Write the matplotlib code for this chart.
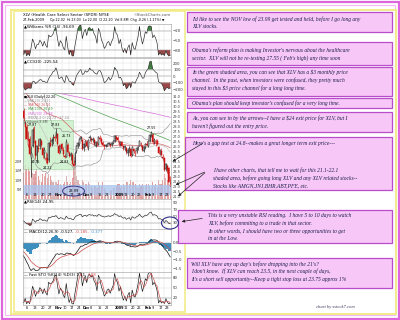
import numpy as np
import pandas as pd
import matplotlib
matplotlib.use('Agg')
import matplotlib.pyplot as plt
from matplotlib.patches import Rectangle, Ellipse, FancyArrowPatch
from matplotlib.transforms import blended_transform_factory

# ---- data: XLV daily, Sep 2 2008 .. Feb 27 2009 (first 23 days only feed the indicators)
holidays = ['2008-11-27', '2008-12-25', '2009-01-01', '2009-01-19', '2009-02-16']
opens = [32.90, 32.80, 32.90, 32.10, 32.90, 33.00, 32.40, 32.40, 32.70, 32.50, 31.50, 32.00, 31.30,
         32.80, 32.60, 31.70, 31.10, 31.00, 31.10, 31.20, 29.80, 30.00, 30.10,
         29.60, 28.40, 28.00, 26.20, 26.80, 24.80, 26.00, 28.00, 26.60, 25.10, 25.80, 26.00, 26.60,
         25.80, 25.30, 24.60, 24.80, 24.60, 26.40, 26.50, 26.60,
         27.00, 27.10, 27.30, 26.10, 25.50, 26.30, 25.60, 25.00, 24.95, 26.20, 25.30, 25.00, 25.10,
         24.20, 24.30, 25.50, 26.10, 26.30, 26.80,
         26.70, 25.80, 26.10, 26.50, 25.90, 26.90, 26.80, 26.70, 26.70, 26.00, 26.50, 26.30, 26.90,
         26.80, 26.40, 26.20, 26.10, 26.10, 26.30, 26.30, 26.20, 26.40,
         26.60, 27.00, 26.90, 26.50, 26.30, 26.50, 26.00, 25.80, 25.80, 25.30, 25.70, 25.70, 25.10,
         25.70, 25.20, 25.50, 25.80, 26.10, 26.40, 26.00,
         25.50, 25.90, 26.30, 26.10, 26.60, 27.20, 27.20, 26.50, 26.40, 26.60, 25.90, 25.40, 25.50,
         24.90, 24.80, 23.70, 24.00, 23.80, 22.02]
highs = [33.30, 33.10, 33.00, 32.60, 33.30, 33.10, 32.80, 32.90, 33.00, 32.70, 32.30, 32.10, 32.20,
         33.20, 32.70, 31.90, 31.30, 31.60, 31.70, 31.30, 30.20, 30.50, 30.30,
         29.90, 28.60, 28.30, 27.60, 27.10, 26.10, 27.87, 28.10, 26.70, 26.20, 26.80, 26.90, 26.80,
         25.90, 25.90, 25.40, 25.30, 26.50, 27.00, 26.90, 27.30,
         27.20, 27.83, 27.40, 26.30, 26.10, 26.40, 25.90, 25.20, 26.73, 26.40, 25.50, 25.40, 25.30,
         24.60, 25.50, 26.20, 26.50, 26.90, 27.05,
         26.80, 26.40, 26.70, 26.70, 26.80, 27.20, 27.00, 27.00, 26.90, 26.60, 26.60, 27.10, 27.20,
         27.00, 26.60, 26.30, 26.30, 26.35, 26.50, 26.40, 26.50, 26.70,
         27.20, 27.20, 27.10, 26.70, 26.60, 26.60, 26.20, 26.20, 25.90, 25.80, 26.00, 25.80, 26.00,
         25.80, 25.60, 25.90, 26.10, 26.70, 26.50, 26.20,
         26.00, 26.40, 26.60, 26.70, 27.30, 27.55, 27.40, 26.90, 26.80, 26.80, 26.00, 25.70, 25.80,
         25.20, 24.90, 24.30, 24.20, 23.90, 23.03]
lows = [32.60, 32.60, 32.10, 31.90, 32.70, 32.20, 32.20, 32.10, 32.50, 31.70, 31.30, 31.00, 30.60,
        32.30, 31.50, 31.00, 30.70, 30.90, 30.90, 29.40, 29.50, 29.80, 29.30,
        28.60, 26.80, 26.70, 25.90, 25.10, 22.89, 25.90, 26.40, 24.75, 24.30, 25.40, 25.70, 25.90,
        24.80, 24.80, 24.30, 24.22, 24.40, 25.90, 26.00, 26.30,
        26.60, 26.90, 26.20, 25.20, 25.30, 25.60, 25.00, 24.83, 24.90, 25.30, 24.90, 24.60, 24.20,
        23.99, 24.10, 25.30, 25.80, 26.10, 26.60,
        25.60, 25.50, 25.90, 25.80, 25.60, 26.60, 26.50, 26.50, 26.20, 25.90, 26.00, 26.20, 26.60,
        26.30, 26.00, 25.70, 25.90, 26.00, 26.20, 25.90, 26.00, 26.30,
        26.50, 26.60, 26.50, 26.10, 26.10, 26.00, 25.60, 25.60, 25.20, 25.00, 25.40, 24.90, 25.00,
        25.30, 25.00, 25.30, 25.60, 26.00, 25.90, 25.50,
        25.40, 25.70, 26.00, 25.90, 26.50, 27.00, 26.30, 26.30, 26.10, 26.20, 25.20, 25.10, 25.00,
        24.60, 23.50, 23.50, 23.30, 22.40, 22.00]
closes = [32.80, 32.95, 32.20, 32.45, 33.10, 32.30, 32.55, 32.80, 32.90, 31.70, 32.20, 31.10, 32.05,
          32.70, 31.60, 31.05, 30.90, 31.40, 31.55, 29.60, 30.05, 30.30, 29.45,
          28.85, 27.95, 26.80, 26.60, 25.25, 25.35, 27.70, 26.75, 25.00, 26.00, 25.75, 26.75, 26.20,
          25.15, 25.60, 24.80, 24.35, 26.40, 26.10, 26.70, 26.95,
          26.85, 27.45, 26.30, 25.35, 26.00, 25.75, 25.20, 24.95, 26.50, 25.40, 25.00, 25.20, 24.25,
          24.05, 25.35, 26.05, 26.40, 26.80, 27.00,
          25.70, 26.30, 26.60, 26.00, 26.70, 26.90, 26.65, 26.80, 26.30, 26.50, 26.20, 27.00, 26.80,
          26.40, 26.20, 26.00, 26.10, 26.30, 26.40, 26.20, 26.40, 26.55,
          27.10, 26.80, 26.70, 26.30, 26.50, 26.10, 25.80, 26.00, 25.40, 25.60, 25.80, 25.00, 25.90,
          25.50, 25.40, 25.80, 26.00, 26.60, 26.00, 25.60,
          25.90, 26.30, 26.20, 26.60, 27.20, 27.40, 26.50, 26.70, 26.60, 26.30, 25.30, 25.40, 25.10,
          24.85, 23.60, 24.20, 23.60, 22.46, 22.20]
# volume in millions, Oct 3 .. Feb 27
volumes = [14, 18, 16, 17, 15, 24, 14, 13, 15, 16, 12, 10, 9, 13, 12, 14, 11, 13, 12, 10, 9,
           7, 9, 8, 10, 8, 7, 8, 9, 12, 9, 8, 9, 11, 16, 22, 12, 10, 8, 4,
           10, 9, 8, 8, 9, 8, 7, 6, 7, 7, 6, 9, 7, 7, 9, 6, 5, 3, 3, 5, 5, 6,
           6, 7, 8, 8, 6, 7, 8, 7, 9, 9, 8, 10, 9, 9, 8, 7, 6, 8, 7, 8,
           7, 7, 8, 8, 7, 6, 9, 7, 8, 6, 10, 8, 8, 10, 13, 11, 10, 12, 9]
# long moving averages (every 10 sessions from Oct 3)
ma_long_x = [0, 10, 20, 30, 40, 50, 60, 70, 80, 90, 100]
ma100 = [32.50, 31.90, 31.35, 30.75, 30.10, 29.50, 28.90, 28.35, 27.80, 27.20, 26.60]
ma200 = [32.10, 31.80, 31.50, 31.20, 30.90, 30.55, 30.25, 29.95, 29.60, 29.30, 28.95]

tick_dates = ['2008-10-06', '2008-10-13', '2008-10-20', '2008-10-27', '2008-11-03', '2008-11-10',
              '2008-11-17', '2008-11-24', '2008-12-01', '2008-12-08', '2008-12-15', '2008-12-22',
              '2009-01-02', '2009-01-12', '2009-01-20', '2009-01-26', '2009-02-02', '2009-02-09',
              '2009-02-17', '2009-02-23']
tick_text = ['6', '13', '20', '27', 'Nov', '10', '17', '24', 'Dec', '8', '15', '22', '2009',
             '12', '20', '26', 'Feb', '9', '17', '23']

notes = [
    ((187, 12, 392, 32), 192, [19, 27],
     ["I'd like to see the NOV low of 23.99 get tested and held, before I go long any", "XLV stocks."]),
    ((187, 42, 392, 65), 192, [50, 58],
     ["Obama's reform plan is making Investor's nervous about the healthcare",
      "sector.  XLV will not be re-testing 27.55 ( Feb's high) any time soon"]),
    ((187, 67, 392, 96), 192, [72, 80, 88],
     ["In the green shaded area, you can see that XLV has a \\$3 monthly price",
      "channel.  In the past, when investors were confused, they pretty much",
      "stayed in this \\$3 price channel for a long long time."]),
    ((187, 98, 392, 108), 192, [103],
     ["Obama's plan should keep investor's confused for a very long time."]),
    ((187, 112, 392, 132), 192, [118, 126],
     ["As, you can see in by the arrows--I have a \\$24 exit price for XLV, but I",
      "haven't figured out the entry price."]),
    ((185, 137, 392, 190), 192, [143],
     ["Here's a gap test at 24.8--makes a great longer term exit price---"]),
    (None, 213, [170, 178, 186],
     ["I have other charts, that tell me to wait for this 21.1-22.1",
      "shaded area, before going long XLV and any XLV related stocks--",
      "Stocks like AMGN,JNJ,BHR,ABT,PFE, etc."]),
    ((178, 210, 392, 243), 208, [216, 223, 231, 238],
     ["This is a very unstable RSI reading.  I have 5 to 10 days to watch",
      "XLV, before commiting to a trade in that sector.",
      "In other words, I should have two or three opportunities to get",
      "in at the Low."]),
    ((187, 258, 392, 288), 191, [264, 271, 279],
     ["Will XLV have any up day's before dropping into the 21's?",
      "I don't know.  If XLV can reach 23.5, in the next couple of days,",
      "It's a short sell opportunity--Keep a tight stop loss at 23.75 approx 1%"]),
]

# ---- indicators
days = pd.bdate_range('2008-09-02', '2009-02-27')
days = days[~days.isin(pd.to_datetime(holidays))]
pos = {d: i - 23 for i, d in enumerate(days)}
xs = np.arange(len(days)) - 23
tick_x = [pos[pd.Timestamp(d)] for d in tick_dates]

o = pd.Series(opens); h = pd.Series(highs); l = pd.Series(lows); c = pd.Series(closes)
hh = h.rolling(14, min_periods=1).max()
ll = l.rolling(14, min_periods=1).min()
willr = (hh - c) / (hh - ll) * -100
tp = (h + l + c) / 3
md = tp.rolling(20, min_periods=2).apply(lambda s: np.mean(np.abs(s - s.mean())), raw=True)
cci = (tp - tp.rolling(20, min_periods=2).mean()) / (0.015 * md)
dlt = c.diff()
gain = dlt.clip(lower=0).ewm(alpha=1 / 14, adjust=False).mean()
loss = (-dlt.clip(upper=0)).ewm(alpha=1 / 14, adjust=False).mean()
rsi = 100 - 100 / (1 + gain / loss)
macd = c.ewm(span=12, adjust=False).mean() - c.ewm(span=26, adjust=False).mean()
sig = macd.ewm(span=9, adjust=False).mean()
hist = macd - sig
stk = (c - ll) / (hh - ll) * 100
std = stk.rolling(3).mean()
ma20 = c.rolling(20, min_periods=1).mean()
sd20 = c.rolling(20, min_periods=1).std(ddof=0)
ma50 = c.rolling(50, min_periods=1).mean()

W, H = 400, 320


def rect(x0, y0, x1, y1):
    return [x0 / W, 1 - y1 / H, (x1 - x0) / W, (y1 - y0) / H]


fig = plt.figure(figsize=(4, 3.2), dpi=100, facecolor='white')
tiny = 2.8


def panel(y0, y1, ylim, yticks, ylabels=None):
    ax = fig.add_axes(rect(23, y0, 171, y1))
    ax.set_xlim(-0.5, 100.5)
    ax.set_ylim(*ylim)
    for s in ax.spines.values():
        s.set_color('#9a9a9a'); s.set_linewidth(0.4)
    ax.yaxis.tick_right()
    ax.set_yticks(yticks)
    if ylabels is not None:
        ax.set_yticklabels(ylabels)
    ax.tick_params(axis='y', length=0, pad=1.5, labelsize=tiny, colors='#333333')
    ax.set_xticks(tick_x)
    ax.tick_params(axis='x', length=0, labelbottom=False)
    ax.grid(True, color='#dcdcdc', lw=0.3)
    ax.set_axisbelow(True)
    return ax


def label(ax, parts, y=0.97):
    # parts: list of (text, colour); each piece continues right after the previous one
    t = ax.text(0.01, y, parts[0][0], transform=ax.transAxes, fontsize=tiny, color=parts[0][1],
                va='top', ha='left')
    for s, colr in parts[1:]:
        t = ax.annotate(s, xy=(1, 0), xycoords=t, fontsize=tiny, color=colr, va='bottom', ha='left')


green_fill = '#3f7f3f'
red_fill = '#9a4848'

# Williams %R
ax_w = panel(24, 57, (-102, 2), [-20, -50, -80])
ax_w.plot(xs, willr, color='#222222', lw=0.45)
ax_w.fill_between(xs, willr, -20, where=willr > -20, interpolate=True, color=green_fill, lw=0)
ax_w.fill_between(xs, willr, -80, where=willr < -80, interpolate=True, color=red_fill, lw=0)
ax_w.axhline(-20, color='#999999', lw=0.35); ax_w.axhline(-80, color='#999999', lw=0.35)
label(ax_w, [('▲Williams %R (14) -96.69', 'black')])
fig.text(23 / W, 1 - 15 / H, 'XLV (Health Care Select Sector (SPDR) NYSE', fontsize=tiny, va='center')
fig.text(171 / W, 1 - 15 / H, '©StockCharts.com', fontsize=tiny, va='center', ha='right', color='#555555')
fig.text(23 / W, 1 - 20 / H, '27-Feb-2009', fontsize=2.5, va='center')
fig.text(50 / W, 1 - 20 / H, 'Op 22.02  Hi 23.03  Lo 22.00  Cl 22.20  Vol 8.8M  Chg -0.26 (-1.17%) ▼',
         fontsize=2.3, va='center')

# CCI
ax_c = panel(58, 93, (-261, 277), [200, 100, 0, -100, -200])
ax_c.plot(xs, cci, color='#222222', lw=0.45)
ax_c.fill_between(xs, cci, 100, where=cci > 100, interpolate=True, color=green_fill, lw=0)
ax_c.fill_between(xs, cci, -100, where=cci < -100, interpolate=True, color=red_fill, lw=0)
for v in (100, 0, -100):
    ax_c.axhline(v, color='#999999', lw=0.35)
label(ax_c, [('▲CCI(20) -225.54', 'black')])

# price
ax_p = panel(93, 199, (20.70, 31.40), np.arange(21.0, 31.01, 0.5),
             ['%.1f' % v for v in np.arange(21.0, 31.01, 0.5)])
ax_v = ax_p.twinx()
ax_p.yaxis.tick_right()
ax_p.tick_params(axis='y', length=0, pad=1.5, labelsize=2.5, colors='#333333',
                 labelleft=False, labelright=True)
ax_v.set_zorder(ax_p.get_zorder() - 1)
ax_p.patch.set_visible(False)
main = xs >= 0
vol_colors = np.where(c.diff()[main] < 0, '#e79a9a', '#d9b3b3')
ax_v.bar(xs[main], volumes, width=0.75, color=vol_colors, lw=0)
ax_v.set_ylim(0, 56)
ax_v.set_yticks([5, 10, 15, 20])
ax_v.set_yticklabels(['5M', '10M', '15M', '20M'])
ax_v.yaxis.tick_left()
ax_v.tick_params(axis='y', length=0, pad=0.8, labelsize=2.4, colors='#333333',
                 labelleft=True, labelright=False)
for s in ax_v.spines.values():
    s.set_visible(False)

ax_p.add_patch(Rectangle((-0.5, 23.7), 34.0, 5.0, facecolor='#c6efc6', edgecolor='#7fc47f',
                         lw=0.4, alpha=0.75, zorder=1))
ax_p.axhspan(21.1, 22.1, color='#a9c4ee', alpha=0.75, lw=0, zorder=1)
ax_p.plot(xs, ma20 + 2 * sd20, color='#8a8a8a', lw=0.4, zorder=2)
ax_p.plot(xs, ma20 - 2 * sd20, color='#8a8a8a', lw=0.4, zorder=2)
ax_p.plot(xs, ma20, color='#bbbbbb', lw=0.4, zorder=2)
ax_p.plot(xs, ma50, color='#d35a5a', lw=0.45, zorder=2)
ax_p.plot(ma_long_x, ma100, color='#3f9a3f', lw=0.45, zorder=2)
ax_p.plot(ma_long_x, ma200, color='#d872d8', lw=0.5, zorder=2)

prev = c.shift(1)
col = np.where(c < prev, '#cc1111', '#111111')
body_lo = np.minimum(o, c)
body_h = np.maximum(np.abs(c - o), 0.04)
face = np.where(c < o, col, 'white')
ax_p.vlines(xs[main], l[main], h[main], colors=col[main], lw=0.45, zorder=3)
ax_p.bar(xs[main], body_h[main], bottom=body_lo[main], width=0.62, color=face[main],
         edgecolor=col[main], lw=0.35, zorder=4)

for d, txt, above in [('2008-10-13', '27.87', True), ('2008-11-04', '27.83', True),
                      ('2008-11-13', '26.73', True), ('2009-02-09', '27.55', True),
                      ('2008-10-15', '24.75', False), ('2008-10-27', '24.22', False),
                      ('2008-11-12', '24.83', False)]:
    i = pos[pd.Timestamp(d)] + 23
    yv = highs[i] + 0.35 if above else lows[i] - 0.35
    ax_p.text(pos[pd.Timestamp(d)], yv, txt, fontsize=2.3, ha='center', va='center', zorder=5)
nov_low = pos[pd.Timestamp('2008-11-20')]
ax_p.text(nov_low, 21.5, '23.99', fontsize=2.6, ha='center', va='center', zorder=5)
ax_p.add_patch(Ellipse((nov_low, 21.5), 15, 1.0, fill=False, edgecolor='#3a3a8a', lw=0.7, zorder=6))

for j, (s, colr) in enumerate([('■XLV (Daily) 22.20', 'black'), ('— MA(20) 25.21', '#999999'),
                               ('— MA(50) 26.01', '#d35a5a'), ('— MA(100) 26.49', '#3f9a3f'),
                               ('— MA(200) 28.88', '#d872d8'), ('— BB(20,2.0) 22.73 - 27.34', '#888888'),
                               ('▲Volume 8.8M', '#555555')]):
    ax_p.text(0.01, 0.985 - j * 0.04, s, transform=ax_p.transAxes, fontsize=2.3, color=colr,
              va='top', zorder=5)

bt = blended_transform_factory(ax_p.transData, ax_p.transAxes)
for tx, tt in zip(tick_x, tick_text):
    ax_p.text(tx + 0.3, 0.02, tt, transform=bt, fontsize=2.5, va='bottom', ha='left', zorder=5,
              fontweight='bold' if not tt.isdigit() or tt == '2009' else 'normal')

# RSI
ax_r = panel(199, 229, (12, 100), [90, 70, 50, 30])
ax_r.plot(xs, rsi, color='#222222', lw=0.45)
ax_r.fill_between(xs, rsi, 30, where=rsi < 30, interpolate=True, color=red_fill, lw=0)
ax_r.fill_between(xs, rsi, 70, where=rsi > 70, interpolate=True, color=green_fill, lw=0)
ax_r.axhline(70, color='#999999', lw=0.35); ax_r.axhline(30, color='#999999', lw=0.35)
label(ax_r, [('▲RSI(14) 24.95', 'black')])

# MACD
ax_m = panel(229, 272, (-1.74, 0.84), [0.0, -0.5, -1.0, -1.5])
ax_m.bar(xs, hist * 1.2, width=1.0, color='#3d8fc0', lw=0)
ax_m.plot(xs, macd, color='#111111', lw=0.5)
ax_m.plot(xs, sig, color='#d04a4a', lw=0.5)
ax_m.axhline(0, color='#999999', lw=0.35)
label(ax_m, [('— MACD(12,26,9) -0.527, ', 'black'), ('-0.185, ', '#d04a4a'), ('-0.377', '#3d8fc0')])

# Fast stochastics
ax_s = panel(272, 305, (-2, 98), [80, 50, 20])
ax_s.plot(xs, stk, color='#111111', lw=0.45)
ax_s.plot(xs, std, color='#d04a4a', lw=0.45)
for v in (80, 20):
    ax_s.axhline(v, color='#999999', lw=0.35)
label(ax_s, [('— Fast STO %K(14) %D(3) 1.11, ', 'black'), ('3.08', '#d04a4a')])
bt2 = blended_transform_factory(ax_s.transData, ax_s.transAxes)
for tx, tt in zip(tick_x, tick_text):
    ax_s.text(tx + 0.3, -0.04, tt, transform=bt2, fontsize=2.5, va='top', ha='left',
              fontweight='bold' if not tt.isdigit() or tt == '2009' else 'normal')

# ---- page decoration, notes and arrows (pixel space)
ov = fig.add_axes([0, 0, 1, 1])
ov.set_xlim(0, W); ov.set_ylim(H, 0); ov.axis('off'); ov.patch.set_alpha(0)
ov.add_patch(Rectangle((1.5, 1.5), 397, 317, fill=False, edgecolor='#dd66dd', lw=1.6))
ov.add_patch(Rectangle((5, 5), 390, 310, fill=False, edgecolor='#f3b8f3', lw=0.8))
ov.add_patch(Rectangle((11, 10), 385, 304, fill=False, edgecolor='#f2ec8c', lw=1.4))
ov.add_patch(Rectangle((14, 11), 171, 301, fill=False, edgecolor='#f2ec8c', lw=1.2))

for bx, tx0, ys, lines in notes:
    if bx is not None:
        x0, y0, x1, y1 = bx
        ov.add_patch(Rectangle((x0, y0), x1 - x0, y1 - y0, facecolor='#f7c8f7', edgecolor='#b94ccb',
                               lw=0.9))
    for yy, s in zip(ys, lines):
        ov.text(tx0, yy, s, fontsize=4.0, style='italic', family=['Liberation Serif', 'DejaVu Serif'],
                color='#1c1c4c', va='center', ha='left')

for a, b in [((205, 142), (170, 163)), ((207, 171), (173, 186)), ((207, 171), (176, 198)),
             ((205, 218), (179, 222))]:
    ov.add_patch(FancyArrowPatch(a, b, arrowstyle='-|>', mutation_scale=4, color='#222222', lw=0.5))
ov.add_patch(Ellipse((170, 223), 17, 12, fill=False, edgecolor='#30308a', lw=0.8))
ov.text(335, 307, 'chart by sstock7.com', fontsize=3.3, style='italic',
        family=['Liberation Serif', 'DejaVu Serif'], color='#3a3a5a', ha='center', va='center')

fig.savefig('out.png', dpi=100, facecolor='white')
